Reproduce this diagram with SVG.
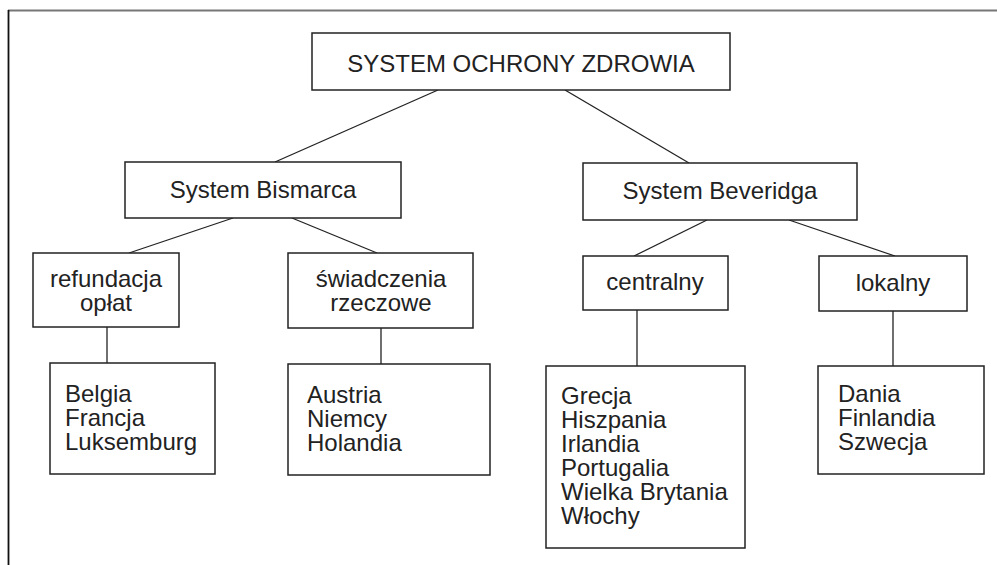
<svg xmlns="http://www.w3.org/2000/svg" width="997" height="565" viewBox="0 0 997 565">
  <style>
    .box { fill: #fff; stroke: #222; stroke-width: 1.5; }
    .link { stroke: #222; stroke-width: 1.3; fill: none; }
    text { font-family: "Liberation Sans", Arial, sans-serif; font-size: 24px; fill: #222; }
    .c { text-anchor: middle; }
  </style>
  <rect width="997" height="565" fill="#fff"/>

  <!-- page frame -->
  <g id="frame">
    <line x1="8" y1="10.5" x2="997" y2="10.5" stroke="#777" stroke-width="2"/>
    <line x1="8.5" y1="10" x2="8.5" y2="565" stroke="#111" stroke-width="1.8"/>
  </g>

  <!-- connectors -->
  <g id="connectors">
    <line class="link" x1="438" y1="90" x2="275" y2="162"/>
    <line class="link" x1="565" y1="90" x2="689" y2="163"/>
    <line class="link" x1="233" y1="218" x2="129" y2="253"/>
    <line class="link" x1="292" y1="218" x2="377" y2="253"/>
    <line class="link" x1="707" y1="220" x2="634" y2="256"/>
    <line class="link" x1="789" y1="220" x2="895" y2="256"/>
    <line class="link" x1="107" y1="327" x2="107" y2="363"/>
    <line class="link" x1="381" y1="328" x2="381" y2="364"/>
    <line class="link" x1="637" y1="310" x2="637" y2="366"/>
    <line class="link" x1="893" y1="311" x2="893" y2="366"/>
  </g>

  <g id="root">
    <rect class="box" x="312" y="33" width="418" height="57"/>
    <text class="c" x="521" y="72">SYSTEM OCHRONY ZDROWIA</text>
  </g>

  <g id="bismarck">
    <rect class="box" x="125" y="162" width="276" height="56"/>
    <text class="c" x="263" y="198">System Bismarca</text>
  </g>

  <g id="beveridge">
    <rect class="box" x="583" y="163" width="274" height="57"/>
    <text class="c" x="720" y="199">System Beveridga</text>
  </g>

  <g id="refund">
    <rect class="box" x="33" y="253" width="146" height="74"/>
    <text class="c" x="106" y="287">refundacja</text>
    <text class="c" x="106" y="311">opłat</text>
  </g>

  <g id="in-kind">
    <rect class="box" x="288" y="253" width="185" height="75"/>
    <text class="c" x="381" y="287">świadczenia</text>
    <text class="c" x="381" y="311">rzeczowe</text>
  </g>

  <g id="central">
    <rect class="box" x="583" y="256" width="145" height="54"/>
    <text class="c" x="655" y="290">centralny</text>
  </g>

  <g id="local">
    <rect class="box" x="819" y="256" width="148" height="55"/>
    <text class="c" x="893" y="291">lokalny</text>
  </g>

  <g id="refund-countries">
    <rect class="box" x="50" y="363" width="165" height="111"/>
    <text x="65" y="402">Belgia</text>
    <text x="65" y="426">Francja</text>
    <text x="65" y="450">Luksemburg</text>
  </g>

  <g id="in-kind-countries">
    <rect class="box" x="288" y="364" width="202" height="111"/>
    <text x="307" y="403">Austria</text>
    <text x="307" y="427">Niemcy</text>
    <text x="307" y="451">Holandia</text>
  </g>

  <g id="central-countries">
    <rect class="box" x="546" y="366" width="199" height="182"/>
    <text x="561" y="404">Grecja</text>
    <text x="561" y="428">Hiszpania</text>
    <text x="561" y="452">Irlandia</text>
    <text x="561" y="476">Portugalia</text>
    <text x="561" y="500">Wielka Brytania</text>
    <text x="561" y="524">Włochy</text>
  </g>

  <g id="local-countries">
    <rect class="box" x="818" y="366" width="166" height="108"/>
    <text x="838" y="402">Dania</text>
    <text x="838" y="426">Finlandia</text>
    <text x="838" y="450">Szwecja</text>
  </g>
</svg>
